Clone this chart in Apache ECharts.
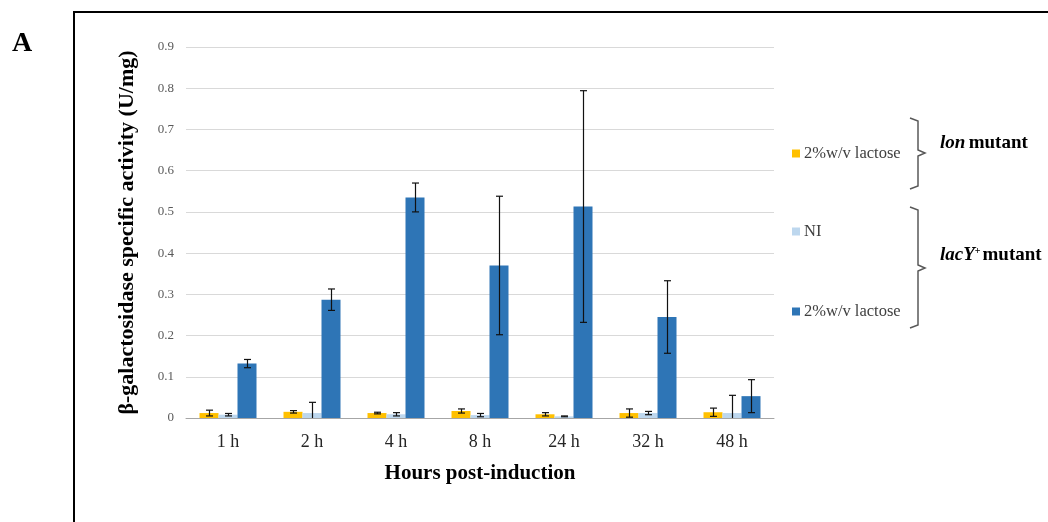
<!DOCTYPE html>
<html lang="en">
<head>
    <meta charset="UTF-8">
    <title>beta-galactosidase</title>
    <script src="https://cdn.jsdelivr.net/npm/echarts@6/dist/echarts.min.js"></script>
    <style>
        html, body { margin: 0; padding: 0; background: #fff; }
        #chart { width: 1048px; height: 522px; }
    </style>
</head>
<body>
<div id="chart"></div>
<script>
    // data
    var hours = ['1 h', '2 h', '4 h', '8 h', '24 h', '32 h', '48 h'];
    var lonLactose = [0.012, 0.015, 0.012, 0.017, 0.009, 0.012, 0.014];
    var lonLactoseErr = [0.007, 0.003, 0.002, 0.005, 0.004, 0.010, 0.010];
    var lacNI = [0.008, 0.012, 0.009, 0.007, 0.004, 0.012, 0.012];
    var lacNIErr = [0.003, 0.026, 0.004, 0.004, 0.001, 0.004, 0.043];
    var lacLactose = [0.132, 0.287, 0.535, 0.370, 0.513, 0.245, 0.053];
    var lacLactoseErr = [0.010, 0.026, 0.035, 0.168, 0.281, 0.088, 0.040];

    var colors = ['#FFC000', '#BDD7EE', '#2E75B6'];
    var serif = 'Liberation Serif';
    var BW = 19;

    function errData(vals, errs) {
        var out = [];
        for (var i = 0; i < vals.length; i++) {
            out.push([i, vals[i], errs[i]]);
        }
        return out;
    }

    function errSeries(vals, errs, offset) {
        return {
            type: 'custom',
            clip: true,
            z: 5,
            data: errData(vals, errs),
            renderItem: function (params, api) {
                var i = api.value(0), v = api.value(1), e = api.value(2);
                var top = api.coord([i, v + e]);
                var bot = api.coord([i, v - e]);
                var x = Math.round(top[0] + offset) + 0.5;
                var st = {stroke: '#111', lineWidth: 1.2};
                return {
                    type: 'group',
                    children: [
                        {type: 'line', shape: {x1: x, y1: top[1], x2: x, y2: bot[1]}, style: st},
                        {type: 'line', shape: {x1: x - 3.5, y1: top[1], x2: x + 3.5, y2: top[1]}, style: st},
                        {type: 'line', shape: {x1: x - 3.5, y1: bot[1], x2: x + 3.5, y2: bot[1]}, style: st}
                    ]
                };
            }
        };
    }

    // one legend box per entry so the two "2%w/v lactose" can sit apart
    function legendItem(name, y) {
        return {
            show: true,
            data: [name],
            left: 787,
            top: y - 13,
            orient: 'vertical',
            icon: 'rect',
            itemWidth: 8,
            itemHeight: 8,
            itemGap: 4,
            textStyle: {fontFamily: serif, fontSize: 16.5, color: '#404040', padding: [0, 0, 0, -1]},
            formatter: function (n) { return n.replace(/ \(.*\)$/, ''); }
        };
    }

    var chart = echarts.init(document.getElementById('chart'));
    chart.setOption({
        animation: false,
        color: colors,
        grid: {left: 186, right: 274, top: 47, bottom: 104, containLabel: false},
        legend: [
            legendItem('2%w/v lactose (lon)', 153),
            legendItem('NI', 231),
            legendItem('2%w/v lactose (lacY)', 311)
        ],
        xAxis: {
            type: 'category',
            data: hours,
            axisLine: {lineStyle: {color: '#A6A6A6'}},
            axisTick: {length: 5, lineStyle: {color: '#A6A6A6'}},
            axisLabel: {fontFamily: serif, fontSize: 18, color: '#262626', margin: 15},
            name: 'Hours post-induction',
            nameLocation: 'middle',
            nameGap: 45,
            nameTextStyle: {fontFamily: serif, fontSize: 21, fontWeight: 'bold', color: '#000'}
        },
        yAxis: {
            type: 'value',
            min: 0,
            max: 0.9,
            interval: 0.1,
            axisLine: {show: false},
            axisTick: {show: false},
            splitLine: {lineStyle: {color: '#D9D9D9'}},
            axisLabel: {fontFamily: serif, fontSize: 13, color: '#595959', margin: 12},
            name: 'β-galactosidase specific activity (U/mg)',
            nameLocation: 'middle',
            nameGap: 48,
            nameTextStyle: {fontFamily: serif, fontSize: 22, fontWeight: 'bold', color: '#000'}
        },
        series: [
            {name: '2%w/v lactose (lon)', type: 'bar', data: lonLactose, barWidth: BW, barGap: '0%'},
            {name: 'NI', type: 'bar', data: lacNI, barWidth: BW, barGap: '0%'},
            {name: '2%w/v lactose (lacY)', type: 'bar', data: lacLactose, barWidth: BW, barGap: '0%'},
            errSeries(lonLactose, lonLactoseErr, -BW),
            errSeries(lacNI, lacNIErr, 0),
            errSeries(lacLactose, lacLactoseErr, BW)
        ],
        graphic: [
            {type: 'rect', shape: {x: 74, y: 12, width: 1100, height: 600},
             style: {fill: 'none', stroke: '#000', lineWidth: 2}, silent: true},
            {type: 'text', left: 12, top: 30,
             style: {text: 'A', font: 'bold 28px "Liberation Serif"', fill: '#000'}},
            {type: 'polyline',
             shape: {points: [[910, 118], [918, 121], [918, 150], [925, 153], [918, 156], [918, 186], [910, 189]]},
             style: {stroke: '#595959', lineWidth: 1.5, fill: 'none'}},
            {type: 'polyline',
             shape: {points: [[910, 207], [918, 210], [918, 265], [925, 268], [918, 271], [918, 325], [910, 328]]},
             style: {stroke: '#595959', lineWidth: 1.5, fill: 'none'}},
            {type: 'text', left: 940, top: 134,
             style: {
                 text: '{i|lon} {b|mutant}',
                 rich: {
                     i: {fontFamily: serif, fontSize: 19, fontWeight: 'bold', fontStyle: 'italic', fill: '#000'},
                     b: {fontFamily: serif, fontSize: 19, fontWeight: 'bold', fill: '#000'}
                 }
             }},
            {type: 'text', left: 940, top: 246,
             style: {
                 text: '{i|lacY}{s|+}{b|mutant}',
                 rich: {
                     i: {fontFamily: serif, fontSize: 19, fontWeight: 'bold', fontStyle: 'italic', fill: '#000'},
                     s: {fontFamily: serif, fontSize: 10, fontWeight: 'bold', fill: '#000', verticalAlign: 'top', padding: [0, 2, 9, 0]},
                     b: {fontFamily: serif, fontSize: 19, fontWeight: 'bold', fill: '#000'}
                 }
             }}
        ]
    });
</script>
</body>
</html>
